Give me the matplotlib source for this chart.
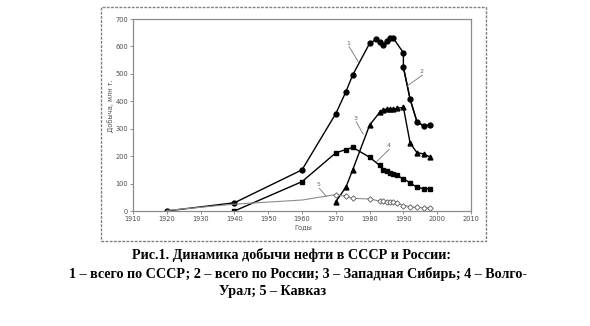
import numpy as np
import matplotlib.pyplot as plt
from matplotlib.patches import Rectangle

# 1 - USSR total (circles)
ussr_years = [1920, 1940, 1960, 1970, 1973, 1975, 1980, 1982, 1983, 1984, 1985, 1986, 1987, 1990]
ussr_vals = [0, 30, 150, 355, 435, 496, 611, 626, 615, 605, 621, 632, 630, 577]

# 2 - Russia total (circles)
russia_years = [1990, 1992, 1994, 1996, 1998]
russia_vals = [524, 407, 326, 310, 314]

# 3 - West Siberia (triangles)
wsib_years = [1970, 1973, 1975, 1980, 1983, 1984, 1985, 1986, 1987, 1988, 1990, 1992, 1994, 1996, 1998]
wsib_vals = [34, 87, 150, 313, 360, 370, 371, 372, 373, 374, 378, 247, 213, 208, 196]

# 4 - Volga-Ural (squares)
vu_years = [1940, 1960, 1970, 1973, 1975, 1980, 1983, 1984, 1985, 1986, 1987, 1988, 1990, 1992, 1994, 1996, 1998]
vu_vals = [0, 107, 212, 224, 232, 196, 166, 151, 145, 140, 135, 130, 117, 103, 86, 82, 80]

# 5 - Caucasus (open diamonds, markers only from 1970)
cauc_years = [1920, 1940, 1960, 1970, 1973, 1975, 1980, 1983, 1984, 1985, 1986, 1987, 1988, 1990, 1992, 1994, 1996, 1998]
cauc_vals = [2, 25, 40, 60, 53, 46, 44, 36, 35, 34, 33, 31, 29, 20, 16, 13, 12, 12]

# curve labels: text, label position, leader end
curve_labels = [
    ("1", (1973.6, 612), (1976.6, 545)),
    ("2", (1995.4, 508), (1991.0, 455)),
    ("3", (1975.7, 338), (1978.1, 280)),
    ("4", (1985.5, 237), (1982.1, 180)),
    ("5", (1964.8, 95), (1967.3, 52)),
]

caption = [
    ("Рис.1. Динамика добычи нефти в СССР и России:", 291),
    ("1 – всего по СССР; 2 – всего по России; 3 – Западная Сибирь; 4 – Волго-", 298),
    ("Урал; 5 – Кавказ", 273),
]

fig = plt.figure(figsize=(5.9, 3.26), dpi=100)
ax = fig.add_axes([133 / 590, 1 - 211 / 326, (471 - 133) / 590, (211 - 19) / 326])

lw = 1.0
ax.plot(ussr_years, ussr_vals, color='black', lw=lw, marker='o', ms=3.5)
ax.plot(np.r_[ussr_years[-1:], russia_years], np.r_[ussr_vals[-1:], russia_vals],
        color='black', lw=lw)
ax.plot(russia_years, russia_vals, color='black', lw=lw, marker='o', ms=3.5)
ax.plot(wsib_years, wsib_vals, color='black', lw=lw, marker='^', ms=3.5)
ax.plot(vu_years, vu_vals, color='black', lw=lw, marker='s', ms=3.3)
ax.plot(cauc_years, cauc_vals, color='0.55', lw=0.8, marker='D', ms=2.8,
        mfc='white', mec='0.35', mew=0.6, markevery=slice(3, None))

for txt, pos, end in curve_labels:
    ax.annotate("", xy=end, xytext=(pos[0] + 0.3, pos[1] - 12),
                arrowprops=dict(arrowstyle='-', color='0.45', lw=0.6, shrinkA=0, shrinkB=0))
    ax.text(pos[0], pos[1], txt, fontsize=4.5, color='0.4', ha='center', va='center')

ax.set_xlim(1910, 2010)
ax.set_ylim(0, 700)
ax.set_xticks(range(1910, 2011, 10))
ax.set_yticks(range(0, 701, 100))
ax.tick_params(labelsize=4.8, labelcolor='0.3', color='0.5', length=2, width=0.6, pad=1.5)
for s in ax.spines.values():
    s.set_color('0.55')
    s.set_linestyle((0, (2, 1)))
    s.set_linewidth(0.9)

fig.text(303 / 590, 1 - 227 / 326, "Годы", fontsize=4.8, color='0.3', ha='center', va='center')
fig.text(111 / 590, 1 - 106 / 326, "Добыча, млн т.", fontsize=4.8, color='0.3',
         ha='center', va='center', rotation=90)

fig.add_artist(Rectangle((101 / 590, 1 - 241 / 326), (486 - 101) / 590, (241 - 7) / 326,
                         transform=fig.transFigure, fill=False, ec='0.5', ls=(0, (2, 1)), lw=1))

for (line, cx), cy in zip(caption, [255, 274, 292]):
    fig.text(cx / 590, 1 - cy / 326, line, fontsize=10.2, fontweight='bold',
             family='Liberation Serif', ha='center', va='center')

fig.savefig('out.png', dpi=100)
